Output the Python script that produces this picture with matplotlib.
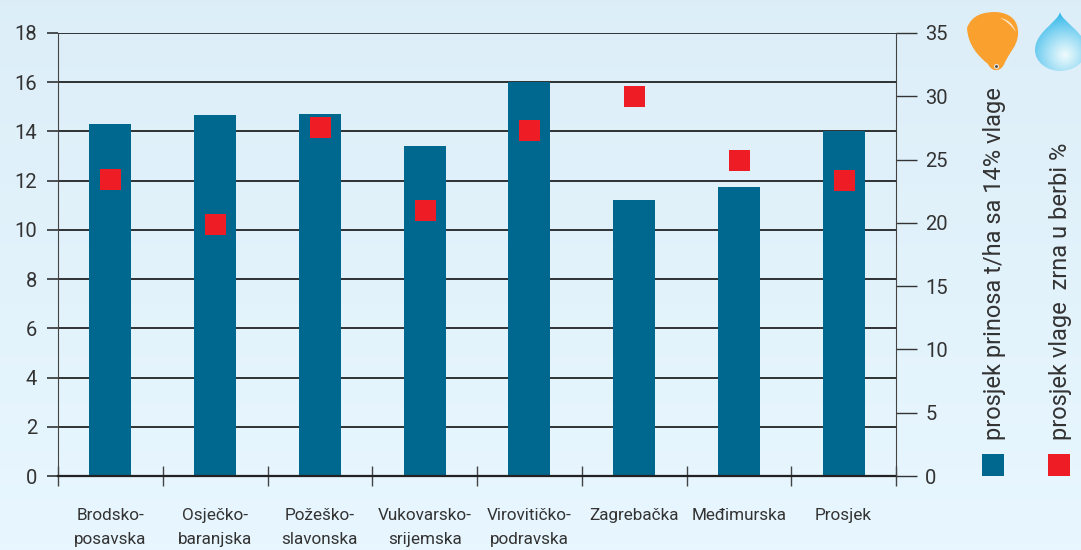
import matplotlib
matplotlib.use("Agg")
from matplotlib import pyplot as plt
from matplotlib.patches import PathPatch, Rectangle
from matplotlib.path import Path
import numpy as np

plt.rcParams['font.family'] = ['Roboto', 'DejaVu Sans']

counties = ["Brodsko-\nposavska", "Osječko-\nbaranjska", "Požeško-\nslavonska", "Vukovarsko-\nsrijemska",
            "Virovitičko-\npodravska", "Zagrebačka", "Međimurska", "Prosjek"]
prinos = [14.3, 14.65, 14.7, 13.4, 16.0, 11.2, 11.75, 14.0]
vlaga = [23.5, 19.9, 27.6, 21.0, 27.3, 30.0, 25.0, 23.4]
left_ticks = list(range(0, 20, 2))
right_ticks = list(range(0, 40, 5))
label_prinos = "prosjek prinosa t/ha sa 14% vlage"
label_vlaga = "prosjek vlage  zrna u berbi %"

BLUE = "#00678f"
RED = "#ee1c25"
TEXT = "#333333"
W, H = 1081.0, 550.0

fig = plt.figure(figsize=(10.81, 5.5), dpi=100)

# background gradient, pixel coordinates for the decoration layer
bg = fig.add_axes([0, 0, 1, 1], zorder=0)
bg.set_xlim(0, W)
bg.set_ylim(H, 0)
bg.axis("off")
top = np.array([0.865, 0.933, 0.973])
bottom = np.array([0.91, 0.969, 1.0])
grad = np.linspace(0, 1, 256)[:, None, None] * (bottom - top) + top
bg.imshow(grad, extent=(0, W, H, 0), aspect="auto")

ax = fig.add_axes([58 / W, 1 - 476 / H, 838 / W, 443 / H], zorder=2)
ax.patch.set_alpha(0)
x = np.arange(len(counties))
ax.bar(x, prinos, width=0.4, color=BLUE, zorder=3)
ax.set_xlim(-0.5, len(counties) - 0.5)
ax.set_ylim(0, 18)
ax.set_yticks(left_ticks)
ax.set_yticklabels([str(v) for v in left_ticks])
ax.yaxis.grid(True, color="#111111", linewidth=1.2)
ax.set_axisbelow(True)
ax.tick_params(axis="y", length=8, width=1.1, color="#222222", labelsize=14.5, labelcolor=TEXT, pad=7)
ax.set_xticks(np.append(x - 0.5, x[-1] + 0.5))
ax.set_xticklabels([])
ax.tick_params(axis="x", which="major", direction="inout", length=15, width=1, color="#444444")
ax.set_xticks(x, minor=True)
ax.set_xticklabels(counties, minor=True, fontsize=12.3, color=TEXT, linespacing=1.75, va="top")
ax.tick_params(axis="x", which="minor", length=0, pad=23)
ax.spines["top"].set_visible(False)
ax.spines["right"].set_visible(False)
ax.spines["left"].set_color("#444444")
ax.spines["bottom"].set_color("#222222")
ax.spines["bottom"].set_linewidth(1.6)
ax.spines["bottom"].set_zorder(4)

ax2 = ax.twinx()
ax2.patch.set_alpha(0)
ax2.set_ylim(0, 35)
ax2.set_yticks(right_ticks)
ax2.set_yticklabels([str(v) for v in right_ticks])
ax2.tick_params(axis="y", length=15, width=1, color="#333333", labelsize=14.5, labelcolor=TEXT, pad=6)
ax2.scatter(x, vlaga, marker="s", s=(21 * 0.72) ** 2, color=RED, linewidths=0, zorder=5, clip_on=False)
for side in ["top", "left", "bottom"]:
    ax2.spines[side].set_visible(False)
ax2.spines["right"].set_color("#444444")

# rotated legend labels and keys
fig.text(994 / W, 1 - 440 / H, label_prinos, rotation=90, ha="center", va="bottom", fontsize=17, color=TEXT)
fig.text(1060 / W, 1 - 440 / H, label_vlaga, rotation=90, ha="center", va="bottom", fontsize=17, color=TEXT)
bg.add_patch(Rectangle((982, 454), 22, 22, facecolor=BLUE, edgecolor="none"))
bg.add_patch(Rectangle((1048, 454), 22, 22, facecolor=RED, edgecolor="none"))

# corn kernel icon
C = Path.CURVE4
kernel = Path([(967, 28), (972, 14), (985, 12), (996, 12), (1010, 13), (1019, 20), (1018, 35),
               (1017, 46), (1010, 52), (1005, 62), (1002, 72), (992, 73), (988, 64),
               (978, 56), (968, 45), (967, 28)],
              [Path.MOVETO] + [C] * 15)
bg.add_patch(PathPatch(kernel, facecolor="#f9a02f", edgecolor="none"))
bg.add_patch(PathPatch(Path([(1000, 18), (1008, 19), (1013, 24), (1016, 32), (1010, 24), (1006, 21), (1000, 18)],
                            [Path.MOVETO] + [C] * 6), facecolor="#fde3bd", edgecolor="none"))
bg.scatter([996], [66], s=14, marker="o", color="#e9e4da", linewidths=0)
bg.scatter([996], [66], s=4, marker="o", color="#444444", linewidths=0)

# water drop icon, radial highlight clipped to the drop outline
drop = PathPatch(Path([(1060, 12), (1058, 22), (1035, 32), (1035, 50), (1035, 62), (1047, 71), (1060, 71),
                       (1074, 71), (1086, 62), (1086, 50), (1086, 32), (1062, 22), (1060, 12)],
                      [Path.MOVETO] + [C] * 12), facecolor="none", edgecolor="none")
bg.add_patch(drop)
gx, gy = np.meshgrid(np.linspace(1030, 1090, 120), np.linspace(8, 75, 134))
r = np.clip(np.hypot(gx - 1065, gy - 55) / 42, 0, 1)[:, :, None]
light = np.array([0.93, 0.98, 0.99])
dark = np.array([0.2, 0.72, 0.92])
glow = bg.imshow(light + (dark - light) * r ** 1.1, extent=(1030, 1090, 75, 8), aspect="auto")
glow.set_clip_path(drop)

fig.savefig("out.png", dpi=100)
